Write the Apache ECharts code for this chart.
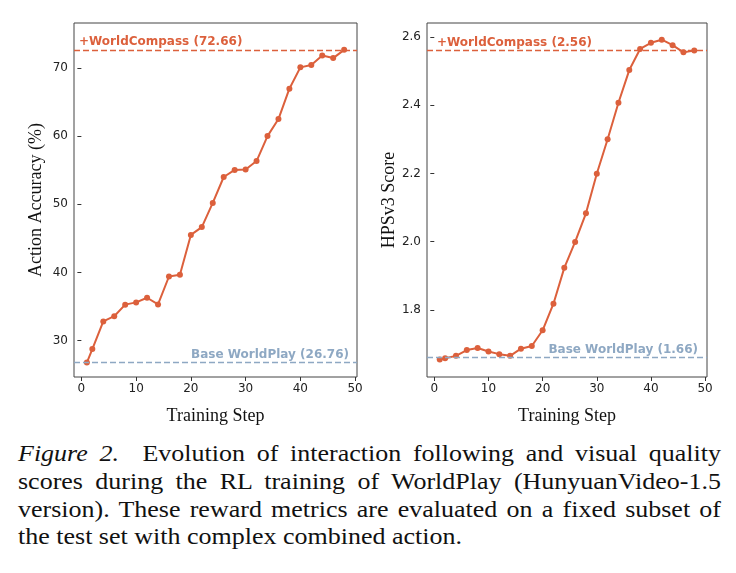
<!DOCTYPE html>
<html>
<head>
<meta charset="utf-8">
<script src="https://cdn.jsdelivr.net/npm/echarts@6/dist/echarts.min.js"></script>
<style>
  body { margin: 0; background: #fff; }
  #main { position: absolute; left: 0; top: 0; width: 736px; height: 430px; }
  #caption {
    position: absolute; left: 18px; top: 441px; width: 703px;
    font-family: "Liberation Serif", serif; font-size: 26px; line-height: 32.4px; color: #111;
    transform: scale(1, 0.85); transform-origin: 0 0;
  }
  #caption div { text-align: justify; text-align-last: justify; white-space: nowrap; }
  #caption div.last { text-align: left; text-align-last: left; }
</style>
</head>
<body>
<div id="main"></div>
<div id="caption">
  <div><i>Figure 2.</i>&nbsp; Evolution of interaction following and visual quality</div>
  <div>scores during the RL training of WorldPlay (HunyuanVideo-1.5</div>
  <div>version). These reward metrics are evaluated on a fixed subset of</div>
  <div class="last">the test set with complex combined action.</div>
</div>
<script>
// training steps
var steps = [1, 2, 4, 6, 8, 10, 12, 14, 16, 18, 20, 22, 24, 26, 28, 30, 32, 34, 36, 38, 40, 42, 44, 46, 48]
// action accuracy (%)
var accuracy = [26.76, 28.75, 32.8, 33.57, 35.27, 35.6, 36.28, 35.3, 39.4, 39.65, 45.5, 46.65, 50.2,
  54.0, 55.04, 55.1, 56.34, 60.0, 62.5, 66.96, 70.09, 70.43, 71.82, 71.45, 72.66]
// HPSv3 score
var hps = [1.654, 1.658, 1.665, 1.682, 1.688, 1.678, 1.670, 1.665, 1.686, 1.694, 1.740, 1.818, 1.923,
  1.999, 2.083, 2.199, 2.300, 2.407, 2.503, 2.565, 2.583, 2.592, 2.576, 2.555, 2.560]

var accBase = 26.76, accBest = 72.66
var hpsBase = 1.655, hpsBest = 2.56

var xTicks = [0, 10, 20, 30, 40, 50]
var accTicks = [30, 40, 50, 60, 70]
var hpsTicks = [1.8, 2.0, 2.2, 2.4, 2.6]

var orange = '#dc603c'
var blue = '#8ea8c3'

function pairs(xs, ys) {
  return xs.map(function (x, i) { return [x, ys[i]] })
}

function xAxisFor(idx) {
  return {
    gridIndex: idx, type: 'value', min: -1.35, max: 50.35,
    name: 'Training Step', nameLocation: 'middle', nameGap: 30,
    nameTextStyle: { fontFamily: 'Liberation Serif', fontSize: 18, color: '#111' },
    axisLine: { show: false },
    axisTick: { show: true, length: 4, customValues: xTicks, lineStyle: { color: '#333' } },
    axisLabel: { customValues: xTicks, fontFamily: 'DejaVu Sans', fontSize: 12, color: '#222', margin: 6 },
    splitLine: { show: false }
  }
}

function yAxisFor(idx, min, max, ticks, name, dec) {
  return {
    gridIndex: idx, type: 'value', min: min, max: max,
    name: name, nameLocation: 'middle', nameGap: 29,
    nameTextStyle: { fontFamily: 'Liberation Serif', fontSize: 18, color: '#111' },
    axisLine: { show: false },
    axisTick: { show: true, length: 4, customValues: ticks, lineStyle: { color: '#333' } },
    axisLabel: {
      customValues: ticks, fontFamily: 'DejaVu Sans', fontSize: 12, color: '#222', margin: 6,
      formatter: function (v) { return v.toFixed(dec) }
    },
    splitLine: { show: false }
  }
}

function seriesFor(idx, data, best, base, bestText, baseText, bestPad, basePad) {
  return {
    type: 'line', xAxisIndex: idx, yAxisIndex: idx,
    data: pairs(steps, data),
    symbol: 'circle', symbolSize: 6,
    itemStyle: { color: orange },
    lineStyle: { color: orange, width: 2 },
    animation: false,
    markLine: {
      silent: true, symbol: 'none', animation: false,
      data: [
        {
          yAxis: best,
          lineStyle: { color: orange, type: [6, 3], width: 1.3 },
          label: {
            formatter: bestText, position: 'insideStartTop', distance: [bestPad, 2],
            color: orange, fontFamily: 'DejaVu Sans', fontWeight: 'bold', fontSize: 12
          }
        },
        {
          yAxis: base,
          lineStyle: { color: blue, type: [6, 3], width: 1.3 },
          label: {
            formatter: baseText, position: 'insideEndTop', distance: [basePad, 2],
            color: blue, fontFamily: 'DejaVu Sans', fontWeight: 'bold', fontSize: 12
          }
        }
      ]
    }
  }
}

var chart = echarts.init(document.getElementById('main'), null, { renderer: 'canvas' })
chart.setOption({
  animation: false,
  grid: [
    { left: 74, top: 23, width: 283, height: 359, show: true, borderColor: '#444', borderWidth: 1 },
    { left: 427, top: 23, width: 280, height: 359, show: true, borderColor: '#444', borderWidth: 1 }
  ],
  xAxis: [xAxisFor(0), xAxisFor(1)],
  yAxis: [
    yAxisFor(0, 24.65, 76.6, accTicks, 'Action Accuracy (%)', 0),
    yAxisFor(1, 1.603, 2.641, hpsTicks, 'HPSv3 Score', 1)
  ],
  series: [
    seriesFor(0, accuracy, accBest, accBase, '+WorldCompass (72.66)', 'Base WorldPlay (26.76)', 5, 8),
    seriesFor(1, hps, hpsBest, hpsBase, '+WorldCompass (2.56)', 'Base WorldPlay (1.66)', 10, 9)
  ]
})
</script>
</body>
</html>
